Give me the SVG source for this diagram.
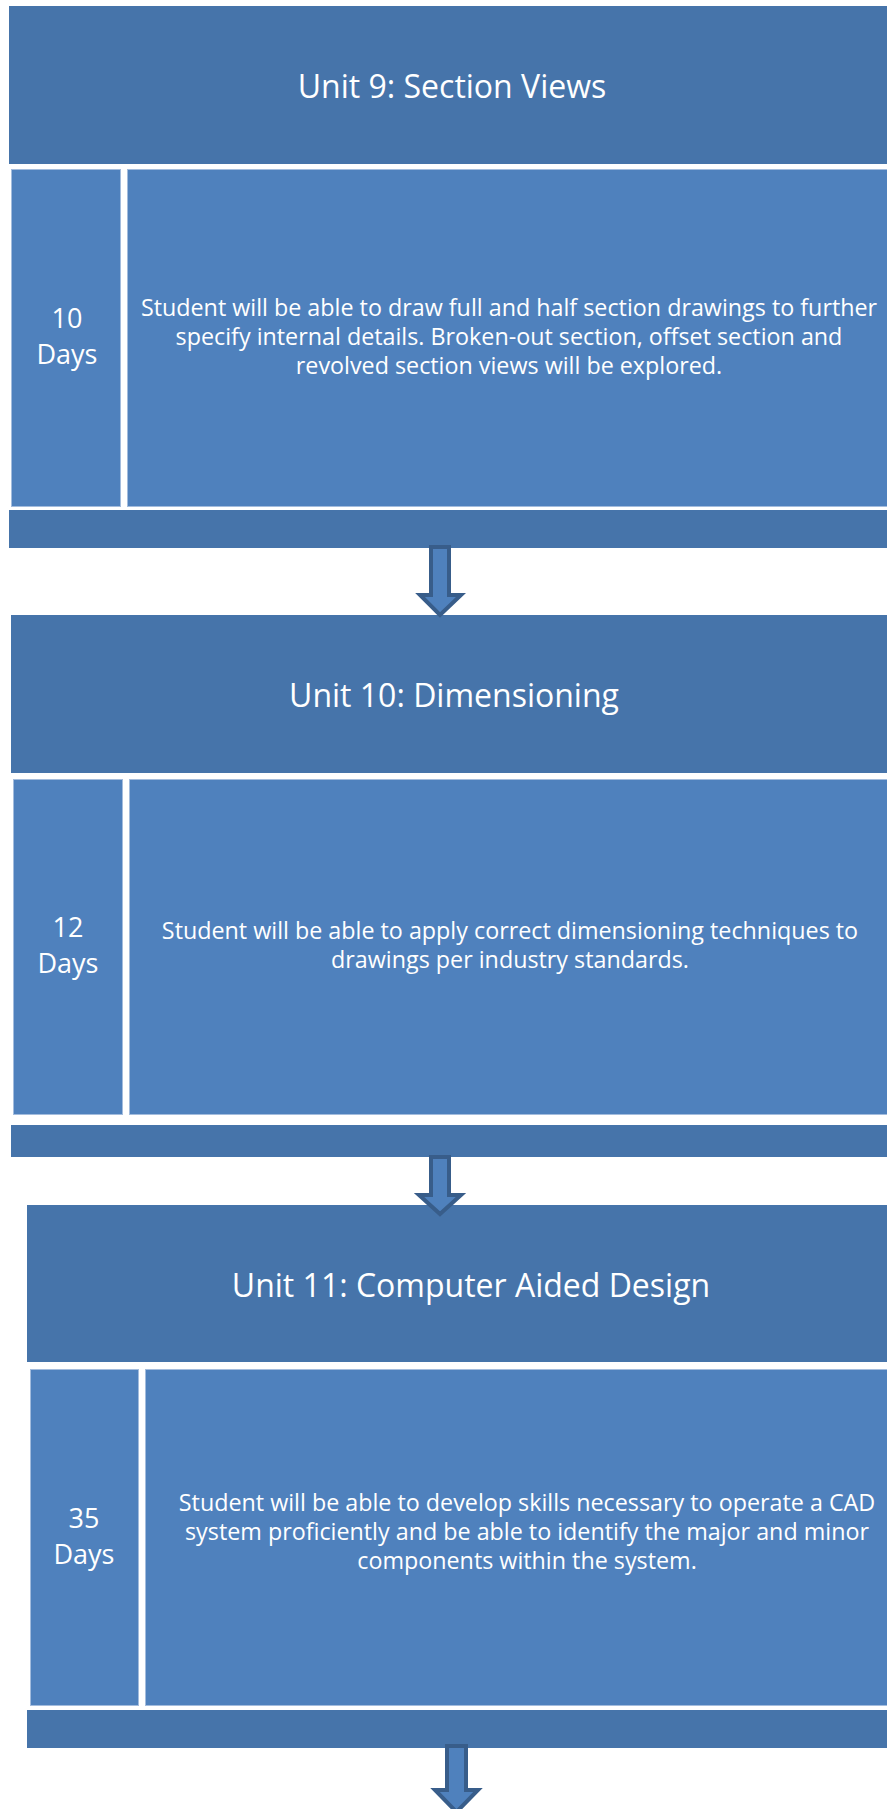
<svg xmlns="http://www.w3.org/2000/svg" width="887" height="1809" viewBox="0 0 887 1809">
<style>
.hdr{fill:#4674AA;}
.box{fill:#4F81BD;stroke:#A3BCDD;stroke-width:1;}
.title{font-family:"Open Sans","Liberation Sans",sans-serif;font-size:32px;fill:#ffffff;text-anchor:middle;}
.days{font-family:"Open Sans","Liberation Sans",sans-serif;font-size:27px;fill:#ffffff;text-anchor:middle;}
.desc{font-family:"Open Sans","Liberation Sans",sans-serif;font-size:23.3px;fill:#ffffff;text-anchor:middle;}
.arrow{fill:#4F81BD;stroke:#385D8A;stroke-width:4;stroke-linejoin:miter;}
</style>
<rect width="887" height="1809" fill="#ffffff"/>
<g id="unit9">
<rect class="hdr" x="9" y="6" width="900" height="158"/>
<text class="title" x="452" y="98">Unit 9: Section Views</text>
<rect class="box" x="11.5" y="169.5" width="109" height="337"/>
<text class="days" x="67" y="328">10</text>
<text class="days" x="67" y="364">Days</text>
<rect class="box" x="127.5" y="169.5" width="780" height="337"/>
<text class="desc" x="509" y="316">Student will be able to draw full and half section drawings to further</text>
<text class="desc" x="509" y="345">specify internal details. Broken-out section, offset section and</text>
<text class="desc" x="509" y="374">revolved section views will be explored.</text>
<rect class="hdr" x="9" y="510" width="900" height="38"/>
</g>
<g id="unit10">
<rect class="hdr" x="11" y="615" width="900" height="158"/>
<text class="title" x="454" y="707">Unit 10: Dimensioning</text>
<rect class="box" x="13.5" y="779.5" width="109" height="335"/>
<text class="days" x="68" y="937">12</text>
<text class="days" x="68" y="973">Days</text>
<rect class="box" x="129.5" y="779.5" width="780" height="335"/>
<text class="desc" x="510" y="939">Student will be able to apply correct dimensioning techniques to</text>
<text class="desc" x="510" y="968">drawings per industry standards.</text>
<rect class="hdr" x="11" y="1125" width="900" height="32"/>
</g>
<g id="unit11">
<rect class="hdr" x="27" y="1205" width="900" height="157"/>
<text class="title" x="471" y="1297">Unit 11: Computer Aided Design</text>
<rect class="box" x="30.5" y="1369.5" width="108" height="336"/>
<text class="days" x="84" y="1528">35</text>
<text class="days" x="84" y="1564">Days</text>
<rect class="box" x="145.5" y="1369.5" width="780" height="336"/>
<text class="desc" x="527" y="1511">Student will be able to develop skills necessary to operate a CAD</text>
<text class="desc" x="527" y="1540">system proficiently and be able to identify the major and minor</text>
<text class="desc" x="527" y="1569">components within the system.</text>
<rect class="hdr" x="27" y="1710" width="900" height="38"/>
</g>
<g id="connectors">
<path class="arrow" d="M431,547 H449 V595 H461 L440,615 L420,595 H431 Z"/>
<path class="arrow" d="M431,1157 H449 V1195 H461 L440,1214 L419,1195 H431 Z"/>
<path class="arrow" d="M447,1746 H466 V1790 H478 L456.5,1812 L435,1790 H447 Z"/>
</g>
</svg>
